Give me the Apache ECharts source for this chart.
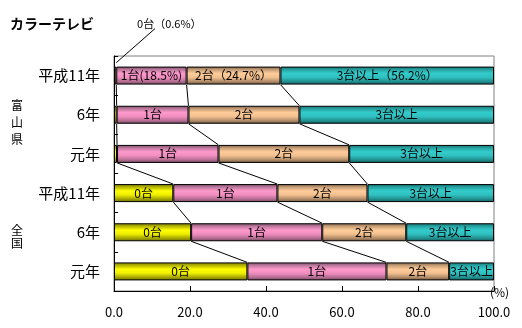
<!DOCTYPE html>
<html>
<head>
<meta charset="utf-8">
<script src="https://cdn.jsdelivr.net/npm/echarts@6/dist/echarts.min.js"></script>
<style>
html,body{margin:0;padding:0;background:#fff;}
#c{width:522px;height:328px;}
</style>
</head>
<body>
<div id="c"></div>
<script>
// ---- data ----
const title = 'カラーテレビ';
const regions = ['富山県', '全国'];
const years = ['平成11年', '6年', '元年'];
const seriesNames = ['0台', '1台', '2台', '3台以上'];
// rows: 富山県 平成11年, 6年, 元年, 全国 平成11年, 6年, 元年
const zero  = [0.6, 0.7, 0.8, 15.6, 20.3, 35.1];
const one   = [18.5, 18.9, 26.7, 27.4, 34.5, 36.6];
const two   = [24.7, 29.2, 34.4, 23.7, 22.1, 16.5];
const three = [56.2, 51.2, 38.1, 33.3, 23.1, 11.8];
const xTicks = [0, 20, 40, 60, 80, 100];
const unitLabel = '(%)';
const firstRowLabels = ['0台（0.6%）', '1台(18.5%)', '2台（24.7%）', '3台以上（56.2%）'];

// ---- build ----
const categories = [];
regions.forEach(r => years.forEach(y => categories.push(r + ' ' + y)));
const values = [zero, one, two, three];

const grads = [
  ['#7c7c00', '#b8b800', '#ffff00', '#eeee00', '#a8a800', '#6e6e00'],
  ['#7a4e66', '#c07aa0', '#ff99cc', '#f08ec0', '#b86e94', '#6e4a5e'],
  ['#7e6248', '#c8a078', '#ffcc99', '#f2c090', '#b48e6a', '#6e5640'],
  ['#146e6e', '#28a4a4', '#33cccc', '#30c0c0', '#239292', '#145e5e']
];
function grad(c) {
  return new echarts.graphic.LinearGradient(0, 0, 0, 1, [
    {offset: 0, color: c[0]}, {offset: 0.18, color: c[1]}, {offset: 0.38, color: c[2]},
    {offset: 0.6, color: c[3]}, {offset: 0.82, color: c[4]}, {offset: 1, color: c[5]}
  ]);
}

const FONT = '"Noto Sans CJK JP", sans-serif';
const BARH = 18;
const BAND = 235 / categories.length;
const h = (BARH / 2) / BAND;

const series = values.map((arr, k) => ({
  name: seriesNames[k],
  type: 'bar',
  stack: 'all',
  barWidth: BARH,
  data: arr,
  itemStyle: {color: grad(grads[k]), borderColor: '#000', borderWidth: 1},
  label: {
    show: true,
    position: 'inside',
    color: '#000',
    fontFamily: FONT,
    fontSize: 12,
    formatter: p => {
      if (k === 0 && p.dataIndex < years.length) return '';
      if (p.dataIndex === 0) return firstRowLabels[k];
      return seriesNames[k];
    }
  },
  animation: false
}));

// connector lines between consecutive bars at each cumulative boundary
for (let k = 0; k < 3; k++) {
  const cum = categories.map((c, i) => {
    let s = 0;
    for (let j = 0; j <= k; j++) s += values[j][i];
    return s;
  });
  const pts = [];
  for (let i = 0; i < categories.length - 1; i++) {
    pts.push([cum[i], i + h]);
    pts.push([cum[i + 1], i + 1 - h]);
    pts.push(['-', '-']);
  }
  series.push({
    type: 'line',
    xAxisIndex: 0,
    yAxisIndex: 1,
    data: pts,
    symbol: 'none',
    showSymbol: false,
    connectNulls: false,
    lineStyle: {color: '#000', width: 1},
    silent: true,
    animation: false,
    z: 1
  });
}

// callout for the 0台 share of the first row (label placed above the plot)
const CALLOUT_X = 10.8, CALLOUT_Y = -1.2;
series.push({
  type: 'line',
  xAxisIndex: 0,
  yAxisIndex: 1,
  clip: false,
  symbol: 'none',
  showSymbol: false,
  silent: true,
  animation: false,
  lineStyle: {color: '#000', width: 1},
  data: [[zero[0], -h - 0.1], [CALLOUT_X, CALLOUT_Y]],
  endLabel: {
    show: true,
    formatter: firstRowLabels[0],
    fontFamily: FONT,
    fontSize: 11,
    color: '#000',
    distance: 0,
    offset: [-18, -5]
  }
});

const chart = echarts.init(document.getElementById('c'), null, {renderer: 'canvas'});
chart.setOption({
  backgroundColor: '#fff',
  animation: false,
  grid: {left: 114, right: 28, top: 56, bottom: 37, show: true, borderColor: '#808080', borderWidth: 1, backgroundColor: 'transparent'},
  xAxis: {
    type: 'value',
    min: xTicks[0], max: xTicks[xTicks.length - 1], interval: xTicks[1] - xTicks[0],
    axisLine: {show: true, onZero: false, lineStyle: {color: '#000', width: 1}},
    axisTick: {show: true, inside: true, length: 5, lineStyle: {color: '#000'}},
    splitLine: {show: false},
    axisLabel: {color: '#000', fontFamily: FONT, fontSize: 13, margin: 15, formatter: v => v.toFixed(1)}
  },
  yAxis: [{
    type: 'category',
    inverse: true,
    data: categories,
    axisLine: {show: true, onZero: false, lineStyle: {color: '#000', width: 1}},
    axisTick: {show: true, inside: true, length: 4, lineStyle: {color: '#000'}},
    axisLabel: {color: '#000', fontFamily: FONT, fontSize: 15, margin: 14, formatter: v => v.split(' ')[1]}
  }, {
    type: 'value',
    inverse: true,
    min: -0.5,
    max: categories.length - 0.5,
    show: false,
    axisLine: {show: false, onZero: false},
    axisTick: {show: false},
    axisLabel: {show: false},
    splitLine: {show: false}
  }],
  graphic: [
    {type: 'text', left: 10, top: 17, style: {text: title, fontFamily: FONT, fontSize: 14, fontWeight: 'bold', fill: '#000'}},
    {type: 'text', left: 11, top: 97, style: {text: regions[0].split('').join('\n'), fontFamily: FONT, fontSize: 12, lineHeight: 17, fill: '#000'}},
    {type: 'text', left: 11, top: 224, style: {text: regions[1].split('').join('\n'), fontFamily: FONT, fontSize: 12, lineHeight: 13, fill: '#000'}},
    {type: 'text', left: 490, top: 286, style: {text: unitLabel, fontFamily: FONT, fontSize: 12, fill: '#000'}}
  ],
  series: series
});
</script>
</body>
</html>
